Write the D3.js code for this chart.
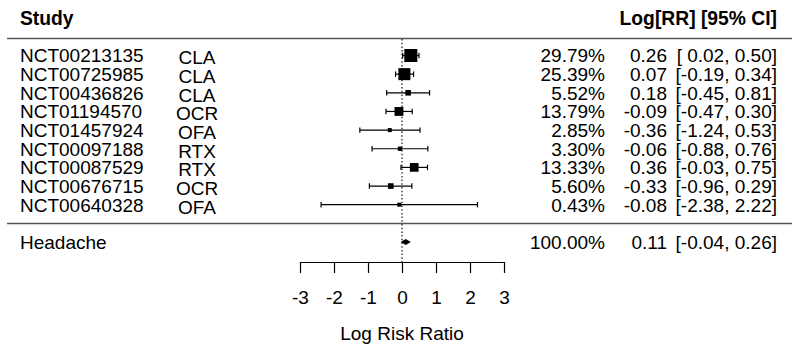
<!DOCTYPE html>
<html><head><meta charset="utf-8">
<script src="https://cdn.jsdelivr.net/npm/d3@7"></script>
<style>
html,body{margin:0;padding:0;background:#fff;}
svg{display:block;font-family:"Liberation Sans",Arial,sans-serif;}
</style></head>
<body><svg id="c" width="799" height="349"></svg>
<script>
const studies = ["NCT00213135","NCT00725985","NCT00436826","NCT01194570","NCT01457924","NCT00097188","NCT00087529","NCT00676715","NCT00640328"];
const drugs = ["CLA","CLA","CLA","OCR","OFA","RTX","RTX","OCR","OFA"];
const weights = [29.79,25.39,5.52,13.79,2.85,3.30,13.33,5.60,0.43];
const estimates = [0.26,0.07,0.18,-0.09,-0.36,-0.06,0.36,-0.33,-0.08];
const lowers = [0.02,-0.19,-0.45,-0.47,-1.24,-0.88,-0.03,-0.96,-2.38];
const uppers = [0.50,0.34,0.81,0.30,0.53,0.76,0.75,0.29,2.22];
const summaryLabel = "Headache";
const summary = {weight:100.00, est:0.11, lo:-0.04, hi:0.26};
const xTicks = [-3,-2,-1,0,1,2,3];
const xTitle = "Log Risk Ratio";
const headLeft = "Study";
const headRight = "Log[RR] [95% CI]";

const svg = d3.select("#c");
const fs = 19;
const x = d3.scaleLinear().domain([-3,3]).range([300,504]);
const y = d3.scaleLinear().domain([0, studies.length-1]).range([55.5, 204.7]);
const ySum = 242;
const size = d3.scaleSqrt().domain([0, d3.max(weights)]).range([0, 13]);
const f2 = v => v.toFixed(2);
const sz = w => Math.max(4, size(w));

// header
svg.append("text").attr("x",20).attr("y",25).attr("font-size",19.3).attr("font-weight","bold").text(headLeft);
svg.append("text").attr("x",777).attr("y",25).attr("font-size",19.3).attr("font-weight","bold").attr("text-anchor","end").text(headRight);

// separators
svg.append("line").attr("x1",7).attr("x2",792).attr("y1",38.5).attr("y2",38.5).attr("stroke","#555").attr("stroke-width",1.6);
svg.append("line").attr("x1",7).attr("x2",792).attr("y1",223.5).attr("y2",223.5).attr("stroke","#555").attr("stroke-width",1.6);

// zero reference line
svg.append("line").attr("x1",x(0)).attr("x2",x(0)).attr("y1",39).attr("y2",262)
  .attr("stroke","#000").attr("stroke-width",1.1).attr("stroke-dasharray","1.5,2.2");

// study rows
const rows = svg.append("g").selectAll("g").data(studies).join("g");
rows.append("text").attr("x",20).attr("y",(d,i)=>y(i)).attr("dy","0.36em").attr("font-size",fs).text(d=>d);
rows.append("text").attr("x",197).attr("y",(d,i)=>y(i)+2).attr("dy","0.36em").attr("font-size",fs).attr("text-anchor","middle").text((d,i)=>drugs[i]);
rows.append("text").attr("x",605).attr("y",(d,i)=>y(i)).attr("dy","0.36em").attr("font-size",fs).attr("text-anchor","end").text((d,i)=>weights[i].toFixed(2)+"%");
rows.append("text").attr("x",667).attr("y",(d,i)=>y(i)).attr("dy","0.36em").attr("font-size",fs).attr("text-anchor","end").text((d,i)=>f2(estimates[i]));
rows.append("text").attr("x",777).attr("y",(d,i)=>y(i)).attr("dy","0.36em").attr("font-size",fs).attr("text-anchor","end").attr("xml:space","preserve")
  .text((d,i)=>"[" + (lowers[i]>=0?" ":"") + f2(lowers[i]) + ", " + f2(uppers[i]) + "]");

// CI lines
rows.append("line").attr("x1",(d,i)=>x(lowers[i])).attr("x2",(d,i)=>x(uppers[i])).attr("y1",(d,i)=>y(i)).attr("y2",(d,i)=>y(i)).attr("stroke","#000").attr("stroke-width",1.2);
rows.append("line").attr("x1",(d,i)=>x(lowers[i])).attr("x2",(d,i)=>x(lowers[i])).attr("y1",(d,i)=>y(i)-2.7).attr("y2",(d,i)=>y(i)+2.7).attr("stroke","#000").attr("stroke-width",1.2);
rows.append("line").attr("x1",(d,i)=>x(uppers[i])).attr("x2",(d,i)=>x(uppers[i])).attr("y1",(d,i)=>y(i)-2.7).attr("y2",(d,i)=>y(i)+2.7).attr("stroke","#000").attr("stroke-width",1.2);
rows.append("rect")
  .attr("x",(d,i)=>x(estimates[i]) - sz(weights[i])/2)
  .attr("y",(d,i)=>y(i) - sz(weights[i])/2)
  .attr("width",(d,i)=>sz(weights[i]))
  .attr("height",(d,i)=>sz(weights[i]))
  .attr("fill","#000");

// summary row
svg.append("text").attr("x",20).attr("y",ySum).attr("dy","0.36em").attr("font-size",fs).text(summaryLabel);
svg.append("text").attr("x",605).attr("y",ySum).attr("dy","0.36em").attr("font-size",fs).attr("text-anchor","end").text(summary.weight.toFixed(2)+"%");
svg.append("text").attr("x",667).attr("y",ySum).attr("dy","0.36em").attr("font-size",fs).attr("text-anchor","end").text(f2(summary.est));
svg.append("text").attr("x",777).attr("y",ySum).attr("dy","0.36em").attr("font-size",fs).attr("text-anchor","end").text("[" + f2(summary.lo) + ", " + f2(summary.hi) + "]");
svg.append("polygon").attr("points",[
  [x(summary.lo),ySum],[x(summary.est),ySum-2.9],[x(summary.hi),ySum],[x(summary.est),ySum+2.9]
].map(p=>p.join(",")).join(" ")).attr("fill","#000");

// axis
const axis = d3.axisBottom(x).tickValues(xTicks).tickSize(11).tickPadding(18).tickSizeOuter(0).tickFormat(d3.format("d"));
const ag = svg.append("g").attr("transform","translate(0,262)").call(axis);
ag.select(".domain").attr("stroke","#000").attr("stroke-width",1.2);
ag.selectAll(".tick line").attr("stroke","#000").attr("stroke-width",1.2);
ag.selectAll(".tick text").attr("font-size",fs).attr("font-family","Liberation Sans, Arial, sans-serif").attr("fill","#000")
  .text(d=> d<0 ? "-"+Math.abs(d) : String(d));
svg.append("text").attr("x",x(0)).attr("y",333).attr("dy","0.36em").attr("font-size",fs).attr("text-anchor","middle").text(xTitle);
</script></body></html>
